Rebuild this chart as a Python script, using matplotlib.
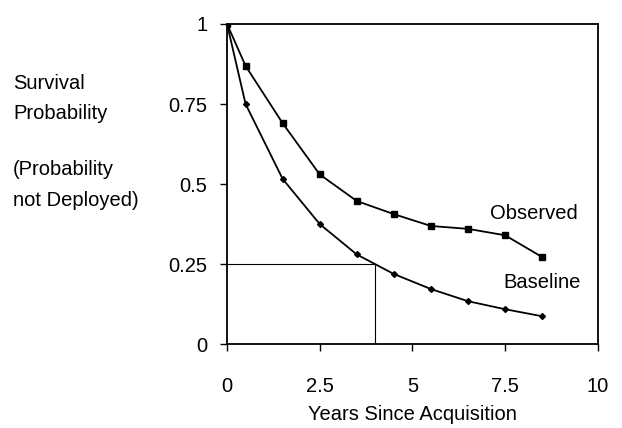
import matplotlib
matplotlib.use("Agg")
import matplotlib.pyplot as plt

plt.rcParams["font.family"] = ["Liberation Sans", "DejaVu Sans"]
plt.rcParams["font.size"] = 14.5

years = [0, 0.5, 1.5, 2.5, 3.5, 4.5, 5.5, 6.5, 7.5, 8.5]
observed = [1.0, 0.869, 0.69, 0.53, 0.447, 0.406, 0.369, 0.36, 0.34, 0.272]
baseline = [1.0, 0.75, 0.516, 0.375, 0.28, 0.219, 0.172, 0.134, 0.109, 0.087]

ref_year = 4.0
ref_prob = 0.25

x_ticks = [0, 2.5, 5, 7.5, 10]
x_tick_labels = ["0", "2.5", "5", "7.5", "10"]
y_ticks = [0, 0.25, 0.5, 0.75, 1]
y_tick_labels = ["0", "0.25", "0.5", "0.75", "1"]

fig = plt.figure(figsize=(6.22, 4.28), dpi=100)
ax = fig.add_axes([0.365, 0.196, 0.596, 0.748])

ax.plot(years, observed, color="black", lw=1.3, marker="s", ms=4.5, zorder=3)
ax.plot(years, baseline, color="black", lw=1.3, marker="D", ms=3, zorder=3)

# quartile guide lines
ax.plot([0, ref_year], [ref_prob, ref_prob], color="black", lw=0.8)
ax.plot([ref_year, ref_year], [0, ref_prob], color="black", lw=0.8)

ax.text(8.27, 0.409, "Observed", ha="center", va="center")
ax.text(8.49, 0.194, "Baseline", ha="center", va="center")

ax.set_xlim(0, 10)
ax.set_ylim(0, 1)
ax.set_xticks(x_ticks)
ax.set_xticklabels(x_tick_labels)
ax.set_yticks(y_ticks)
ax.set_yticklabels(y_tick_labels)
ax.tick_params(direction="out", length=5, width=1)
ax.tick_params(axis="x", pad=19)
ax.tick_params(axis="y", pad=9)
for s in ax.spines.values():
    s.set_linewidth(1.3)

ax.set_xlabel("Years Since Acquisition", labelpad=6)

fig.text(0.021, 0.769, "Survival\nProbability", ha="left", va="center", linespacing=1.75)
fig.text(0.021, 0.568, "(Probability\nnot Deployed)", ha="left", va="center", linespacing=1.75)

fig.savefig("out.png", dpi=100)
